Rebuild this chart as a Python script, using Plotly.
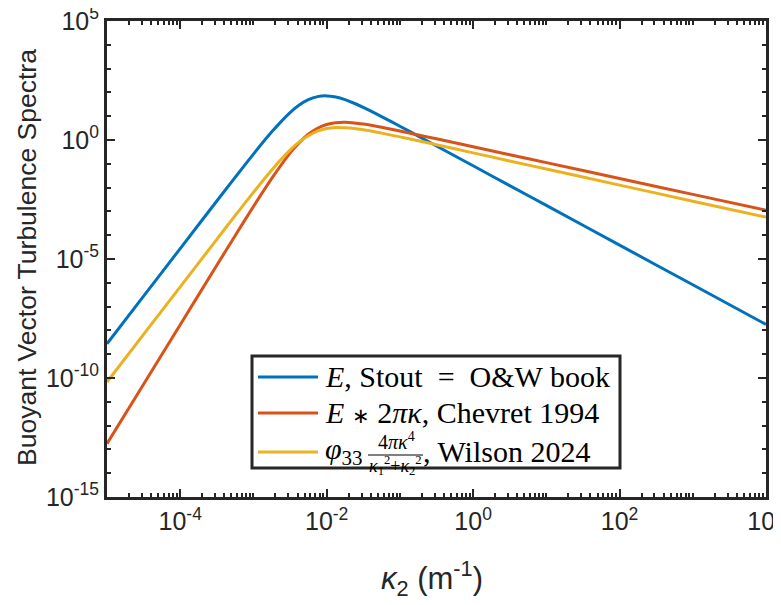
import plotly.graph_objects as go

# ---------------- data ----------------
kappa2 = [1e-5, 3.16e-5, 1e-4, 3.16e-4, 5.62e-4, 1e-3, 1.78e-3, 3.16e-3, 4.22e-3, 5.62e-3, 7.50e-3,
          1e-2, 1.33e-2, 1.78e-2, 2.37e-2, 3.16e-2, 4.22e-2, 5.62e-2, 1e-1, 0.178, 0.316, 1.0, 3.16, 10.0,
          100.0, 1000.0, 10000.0]

E_stout = [2.75e-9, 2.75e-7, 2.75e-5, 2.74e-3, 2.69e-2, 0.256, 2.20, 14.2, 29.4, 49.5, 66.5,
           71.4, 63.5, 49.4, 35.0, 23.5, 15.2, 9.66, 3.79, 1.46, 0.562, 0.0826, 0.0121, 1.78e-3,
           3.83e-5, 8.26e-7, 1.78e-8]

E_chevret = [1.73e-13, 5.47e-11, 1.73e-8, 5.43e-6, 9.51e-5, 1.61e-3, 2.45e-2, 0.282, 0.778, 1.75, 3.13,
             4.49, 5.32, 5.52, 5.21, 4.67, 4.03, 3.41, 2.38, 1.63, 1.12, 0.519, 0.240, 0.112,
             0.0240, 5.19e-3, 1.12e-3]

phi33_wilson = [6.76e-11, 6.76e-9, 6.76e-7, 6.71e-5, 6.62e-4, 6.32e-3, 5.52e-2, 0.375, 0.832, 1.50, 2.38,
                3.02, 3.37, 3.31, 3.06, 2.69, 2.32, 1.95, 1.35, 0.933, 0.631, 0.288, 0.132, 0.0603,
                0.0127, 2.69e-3, 5.75e-4]

series_labels = ["E, Stout = O&W book", "E*2πκ, Chevret 1994", "φ33 4πκ^4/(κ1^2+κ2^2), Wilson 2024"]
series_colors = ["#0072BD", "#D95319", "#EDB120"]

x_tick_vals = [1e-4, 1e-2, 1e0, 1e2, 1e4]
x_tick_text = ["10<sup>-4</sup>", "10<sup>-2</sup>", "10<sup>0</sup>", "10<sup>2</sup>", "10<sup>4</sup>"]
y_tick_vals = [1e-15, 1e-10, 1e-5, 1e0, 1e5]
y_tick_text = ["10<sup>-15</sup>", "10<sup>-10</sup>", "10<sup>-5</sup>", "10<sup>0</sup>", "10<sup>5</sup>"]

x_minor = [k * 10.0 ** n for n in range(-5, 4) for k in range(1, 10) if not (k == 1 and n % 2 == 0)]
y_minor = [10.0 ** n for n in range(-15, 6) if n % 5 != 0]

# ---------------- figure ----------------
AX = "#262626"
SANS = "Liberation Sans, Arial, Helvetica, sans-serif"
SERIF = "Liberation Serif, Times New Roman, serif"

fig = go.Figure()
for ys, name, col in zip([E_stout, E_chevret, phi33_wilson], series_labels, series_colors):
    fig.add_trace(go.Scatter(x=kappa2, y=ys, mode="lines", name=name,
                             line=dict(color=col, width=3, shape="spline", smoothing=0.8),
                             showlegend=False, hoverinfo="skip"))

axis_common = dict(type="log", showline=True, linewidth=3, linecolor=AX, mirror="allticks",
                   ticks="inside", ticklen=8, tickwidth=2, tickcolor=AX,
                   showgrid=False, zeroline=False, tickmode="array", ticklabeloverflow="allow",
                   tickfont=dict(family=SANS, size=25, color=AX))
fig.update_xaxes(**axis_common, range=[-5, 4], tickvals=x_tick_vals, ticktext=x_tick_text,
                 minor=dict(tickmode="array", tickvals=x_minor, ticks="inside", ticklen=4,
                            tickwidth=2, tickcolor=AX, showgrid=False))
fig.update_yaxes(**axis_common, range=[-15, 5], tickvals=y_tick_vals, ticktext=y_tick_text,
                 minor=dict(tickmode="array", tickvals=y_minor, ticks="inside", ticklen=4,
                            tickwidth=2, tickcolor=AX, showgrid=False))

# page body has an 8px margin; the figure div starts at (8, 8)
FIG_W, FIG_H = 781, 597
OFF = 8
# plot area in screen pixels: x 107..766, y 21..497
L, R, T, B = 107, 766, 21, 497
W, H = R - L, B - T
def px(x):
    return (x - L) / W
def py(y):
    return (B - y) / H

shapes = []
annotations = []
# custom legend box
shapes.append(dict(type="rect", xref="paper", yref="paper", x0=px(252), x1=px(620), y0=py(468), y1=py(356),
                   line=dict(color=AX, width=3), fillcolor="white", layer="above"))
row_y = [377, 413, 452]
for ry, col in zip(row_y, series_colors):
    shapes.append(dict(type="line", xref="paper", yref="paper", x0=px(258), x1=px(318), y0=py(ry), y1=py(ry),
                       line=dict(color=col, width=3), layer="above"))

leg_font = dict(family=SERIF, size=30, color="black")
annotations.append(dict(text="<i>E</i>, Stout\u2002=\u2002O&amp;W book", x=px(323), y=py(376), xref="paper", yref="paper",
                        xanchor="left", yanchor="middle", showarrow=False, font=leg_font))
annotations.append(dict(text="<i>E</i> <span style='font-size:21px'>\u2217</span> 2<i>πκ</i>, Chevret 1994", x=px(323), y=py(412),
                        xref="paper", yref="paper",
                        xanchor="left", yanchor="middle", showarrow=False, font=leg_font))
annotations.append(dict(text="<i>φ</i><sub>33</sub>", x=px(323), y=py(451), xref="paper", yref="paper",
                        xanchor="left", yanchor="middle", showarrow=False, font=leg_font))
annotations.append(dict(text="4<i>πκ</i><sup>4</sup>", x=px(396), y=py(441), xref="paper", yref="paper",
                        xanchor="center", yanchor="middle", showarrow=False, font=dict(family=SERIF, size=20, color="black")))
shapes.append(dict(type="line", xref="paper", yref="paper", x0=px(368), x1=px(423), y0=py(455), y1=py(455),
                   line=dict(color="black", width=1), layer="above"))
annotations.append(dict(text="<i>κ</i><sub>1</sub><sup>2</sup>+<i>κ</i><sub>2</sub><sup>2</sup>", x=px(395), y=py(465),
                        xref="paper", yref="paper", xanchor="center", yanchor="middle", showarrow=False,
                        font=dict(family=SERIF, size=18, color="black")))
annotations.append(dict(text=", Wilson 2024", x=px(421), y=py(451), xref="paper", yref="paper",
                        xanchor="left", yanchor="middle", showarrow=False, font=leg_font))

# axis titles
annotations.append(dict(text="Buoyant Vector Turbulence Spectra", x=px(27), y=py(258), xref="paper", yref="paper",
                        textangle=-90, xanchor="center", yanchor="middle", showarrow=False,
                        font=dict(family=SANS, size=26.5, color=AX)))
annotations.append(dict(text="<i>κ</i><sub>2</sub> (m<sup>-1</sup>)", x=px(432), y=py(578), xref="paper", yref="paper",
                        xanchor="center", yanchor="middle", showarrow=False,
                        font=dict(family=SANS, size=31, color=AX)))

fig.update_layout(width=FIG_W, height=FIG_H,
                  margin=dict(l=L - OFF, r=FIG_W - (R - OFF), t=T - OFF, b=FIG_H - (B - OFF), autoexpand=False),
                  paper_bgcolor="white", plot_bgcolor="white", showlegend=False,
                  shapes=shapes, annotations=annotations)

fig.write_html("out.html")
